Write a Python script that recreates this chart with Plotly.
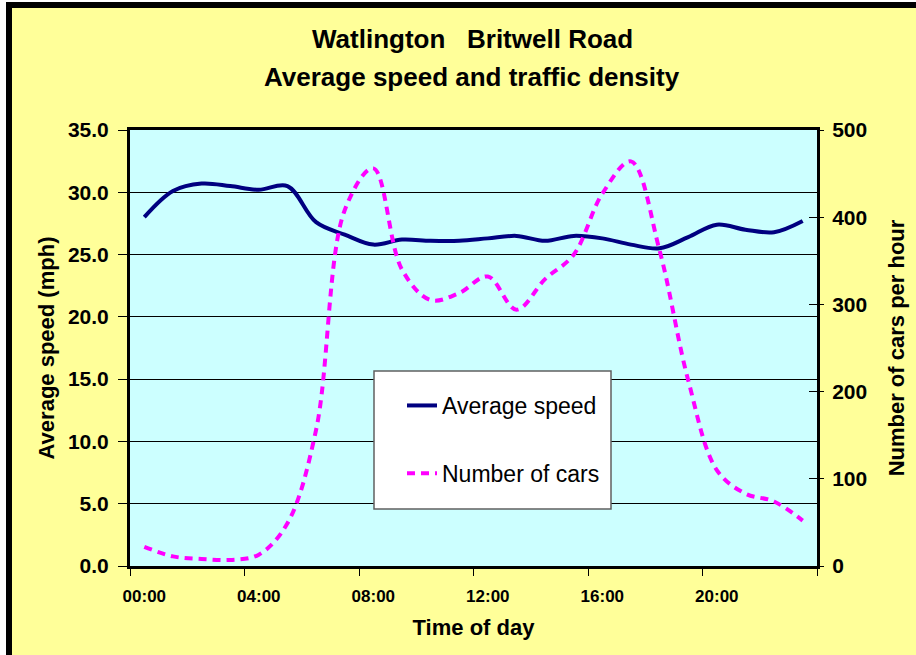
import plotly.graph_objects as go

# ---- data ----
hours = list(range(24))
tick_positions = [0, 4, 8, 12, 16, 20]
tick_labels = ["00:00", "04:00", "08:00", "12:00", "16:00", "20:00"]
speed = [28.0, 30.1, 30.7, 30.5, 30.2, 30.5, 27.6, 26.6, 25.8, 26.2, 26.1, 26.1,
         26.3, 26.5, 26.1, 26.5, 26.3, 25.8, 25.5, 26.4, 27.4, 27.0, 26.8, 27.7]
cars = [22, 11, 8, 7, 13, 49, 156, 408, 456, 340, 305, 313,
        332, 294, 329, 357, 427, 464, 362, 213, 110, 83, 74, 52]

W, H = 916, 655
L, R, T, B = 130, 817, 130, 566
FONT = "Liberation Sans, Arial, sans-serif"


def px_x(p):
    return (p - L) / (R - L)


def px_y(p):
    return (B - p) / (B - T)


fig = go.Figure()
fig.add_trace(go.Scatter(
    x=hours, y=speed, name="Average speed", mode="lines",
    line=dict(color="#000080", width=4, shape="spline", smoothing=1),
    legendgroup="a", yaxis="y"))
fig.add_trace(go.Scatter(
    x=hours, y=cars, name="Number of cars", mode="lines",
    line=dict(color="#FF00FF", width=4, dash="8px,6px", shape="spline", smoothing=1),
    legendgroup="b", yaxis="y2"))

shapes = [
    # white outer strip + black frame (left / top)
    dict(type="rect", xref="paper", yref="paper", x0=px_x(-5), x1=px_x(6), y0=px_y(H + 5), y1=px_y(-5),
         fillcolor="white", line=dict(width=0), layer="above"),
    dict(type="rect", xref="paper", yref="paper", x0=px_x(-5), x1=px_x(W + 5), y0=px_y(2), y1=px_y(-5),
         fillcolor="white", line=dict(width=0), layer="above"),
    dict(type="rect", xref="paper", yref="paper", x0=px_x(6), x1=px_x(12), y0=px_y(H + 5), y1=px_y(2),
         fillcolor="black", line=dict(width=0), layer="above"),
    dict(type="rect", xref="paper", yref="paper", x0=px_x(6), x1=px_x(W + 5), y0=px_y(8), y1=px_y(2),
         fillcolor="black", line=dict(width=0), layer="above"),
    # legend box
    dict(type="rect", xref="paper", yref="paper", x0=px_x(374), x1=px_x(611), y0=px_y(509), y1=px_y(371),
         fillcolor="white", line=dict(color="#606060", width=1.5), layer="above"),
]

annotations = [
    dict(text="Watlington\u00a0\u00a0\u00a0Britwell Road", xref="paper", yref="paper",
         x=px_x(472), y=px_y(39), xanchor="center", yanchor="middle", showarrow=False,
         font=dict(family=FONT, size=26, color="black", weight="bold")),
    dict(text="Average speed and traffic density", xref="paper", yref="paper",
         x=px_x(472), y=px_y(77), xanchor="center", yanchor="middle", showarrow=False,
         font=dict(family=FONT, size=26, color="black", weight="bold")),
]

fig.update_layout(
    width=W, height=H,
    margin=dict(l=L, r=W - R, t=T, b=H - B, pad=0),
    paper_bgcolor="#FFFF99", plot_bgcolor="#CCFFFF",
    font=dict(family=FONT, color="black"),
    showlegend=True,
    legend=dict(x=px_x(402), y=px_y(384), xanchor="left", yanchor="top",
                bgcolor="rgba(0,0,0,0)", borderwidth=0,
                font=dict(family=FONT, size=23, color="black"),
                traceorder="grouped", tracegroupgap=35),
    shapes=shapes, annotations=annotations,
    xaxis=dict(range=[-0.5, 23.5], tickmode="array", tickvals=tick_positions, ticktext=tick_labels,
               ticks="", showgrid=False, zeroline=False,
               showline=True, linecolor="black", linewidth=3, mirror=True,
               tickfont=dict(family=FONT, size=17, color="black", weight="bold"),
               ticklabelstandoff=13,
               minor=dict(tickmode="array", tickvals=[-0.5, 3.5, 7.5, 11.5, 15.5, 19.5, 23.5],
                          ticks="outside", ticklen=7, tickwidth=1, tickcolor="black", showgrid=False),
               title=dict(text="Time of day", standoff=15,
                          font=dict(family=FONT, size=22, color="black", weight="bold"))),
    yaxis=dict(range=[0, 35], tickmode="linear", tick0=0, dtick=5, tickformat=".1f",
               ticks="outside", ticklen=9, tickwidth=1, tickcolor="black",
               showgrid=True, gridcolor="black", gridwidth=1, zeroline=False,
               showline=True, linecolor="black", linewidth=3, mirror=True,
               tickfont=dict(family=FONT, size=21, color="black", weight="bold"),
               ticklabelstandoff=5,
               title=dict(text="Average speed (mph)", standoff=8,
                          font=dict(family=FONT, size=22, color="black", weight="bold"))),
    yaxis2=dict(range=[0, 500], tickmode="linear", tick0=0, dtick=100, overlaying="y", side="right",
                ticks="outside", ticklen=6, tickwidth=1, tickcolor="black",
                showgrid=False, zeroline=False, showline=False,
                tickfont=dict(family=FONT, size=21, color="black", weight="bold"),
                ticklabelstandoff=4,
                title=dict(text="Number of cars per hour", standoff=22,
                           font=dict(family=FONT, size=22, color="black", weight="bold"))),
    yaxis3=dict(range=[0, 500], tickmode="linear", tick0=0, dtick=100, overlaying="y", side="right",
                ticks="inside", ticklen=8, tickwidth=1, tickcolor="black",
                showticklabels=False, showgrid=False, zeroline=False, showline=False),
)
# invisible trace binding the inner-tick axis so it is drawn
fig.add_trace(go.Scatter(x=[hours[0]], y=[cars[0]], yaxis="y3", mode="lines",
                         showlegend=False, hoverinfo="skip", line=dict(width=0)))

fig.write_html("out.html", post_script="document.body.style.margin='0';",
               config={"displayModeBar": False})
